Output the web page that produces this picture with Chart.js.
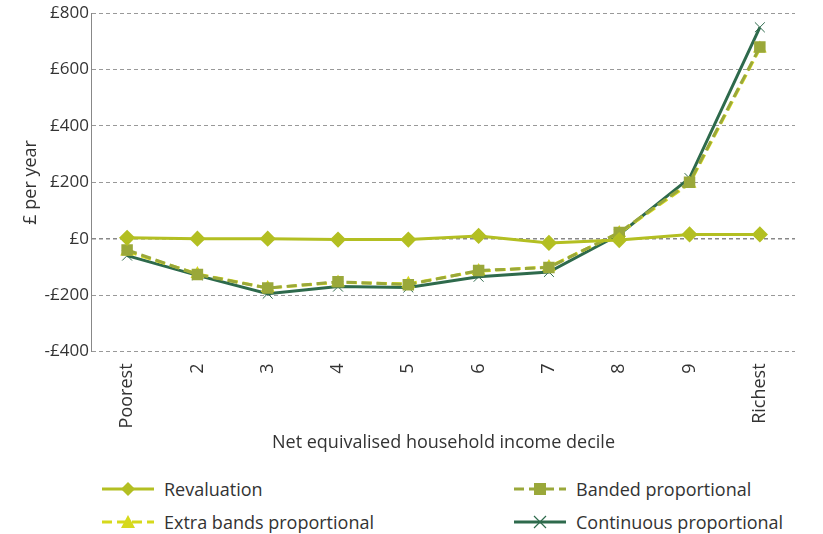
<!DOCTYPE html>
<html>
<head>
<meta charset="utf-8">
<script src="https://cdn.jsdelivr.net/npm/chart.js@4"></script>
<style>
  body { margin: 0; background: #fff; font-family: "Open Sans", sans-serif; }
  #wrap { width: 823px; height: 458px; }
  #legend { position: absolute; top: 477px; left: 100px; width: 723px; font-size: 18px; color: #333; }
  .item { position: absolute; display: flex; align-items: center; }
  .item svg { margin-right: 8px; }
</style>
</head>
<body>
<div id="wrap"><canvas id="c"></canvas></div>
<div id="legend">
  <div class="item" style="left:0;top:0"><svg width="56" height="20"><line x1="2" y1="10" x2="54" y2="10" stroke="#b3bf22" stroke-width="3"/><polygon points="28,3 35,10 28,17 21,10" fill="#b3bf22"/></svg>Revaluation</div>
  <div class="item" style="left:412px;top:0"><svg width="56" height="20"><line x1="2" y1="10" x2="54" y2="10" stroke="#9aa83a" stroke-width="3" stroke-dasharray="10,5"/><rect x="22" y="4" width="12" height="12" fill="#9aa83a"/></svg>Banded proportional</div>
  <div class="item" style="left:0;top:33px"><svg width="56" height="20"><line x1="2" y1="10" x2="54" y2="10" stroke="#d6d91c" stroke-width="3" stroke-dasharray="10,5"/><polygon points="28,3 35,16 21,16" fill="#d6d91c"/></svg>Extra bands proportional</div>
  <div class="item" style="left:412px;top:33px"><svg width="56" height="20"><line x1="2" y1="10" x2="54" y2="10" stroke="#2e6a4c" stroke-width="3"/><path d="M22,4 L34,16 M34,4 L22,16" stroke="#2e6a4c" stroke-width="1.2"/></svg>Continuous proportional</div>
</div>
<script>
const categories = ['Poorest', '2', '3', '4', '5', '6', '7', '8', '9', 'Richest'];
const revaluation = [3, 0, 0, -3, -3, 10, -15, -5, 15, 15];
const banded = [-40, -127, -175, -153, -163, -113, -102, 22, 200, 680];
const extraBands = [-45, -125, -175, -155, -160, -115, -100, 20, 195, 675];
const continuous = [-60, -130, -195, -170, -173, -135, -118, 15, 215, 750];

new Chart(document.getElementById('c'), {
  type: 'line',
  data: {
    labels: categories,
    datasets: [
      { label: 'Revaluation', data: revaluation, borderColor: '#b3bf22', backgroundColor: '#b3bf22', borderWidth: 3, pointStyle: 'rectRot', pointRadius: 6 },
      { label: 'Banded proportional', data: banded, borderColor: '#9aa83a', backgroundColor: '#9aa83a', borderWidth: 3, borderDash: [10, 5], pointStyle: 'rect', pointRadius: 6 },
      { label: 'Extra bands proportional', data: extraBands, borderColor: '#d6d91c', backgroundColor: '#d6d91c', borderWidth: 3, borderDash: [10, 5], pointStyle: 'triangle', pointRadius: 5 },
      { label: 'Continuous proportional', data: continuous, borderColor: '#2e6a4c', backgroundColor: '#2e6a4c', borderWidth: 3, pointStyle: 'crossRot', pointRadius: 7, pointBorderWidth: 1 }
    ]
  },
  options: {
    responsive: true,
    maintainAspectRatio: false,
    animation: false,
    layout: { padding: { top: 8, right: 28, left: 20 } },
    plugins: { legend: { display: false }, tooltip: { enabled: false } },
    scales: {
      x: {
        offset: true,
        grid: { display: false },
        border: { display: false },
        ticks: { color: '#333', font: { family: 'Open Sans', size: 18 }, maxRotation: 90, minRotation: 90, padding: 4 },
        title: { display: true, text: 'Net equivalised household income decile', color: '#333', font: { family: 'Open Sans', size: 18 }, padding: { top: 0 } }
      },
      y: {
        min: -400, max: 800,
        ticks: { stepSize: 200, color: '#333', font: { family: 'Open Sans', size: 17 },
          callback: v => v < 0 ? '-£' + Math.abs(v) : '£' + v },
        grid: { color: c => c.tick.value === 0 ? '#888' : '#999', lineWidth: c => c.tick.value === 0 ? 1.5 : 1, tickLength: 0 },
        border: { color: '#888', dash: [4, 3] },
        title: { display: true, text: '£ per year', color: '#333', font: { family: 'Open Sans', size: 18 }, padding: 0 }
      }
    }
  }
});
</script>
</body>
</html>
